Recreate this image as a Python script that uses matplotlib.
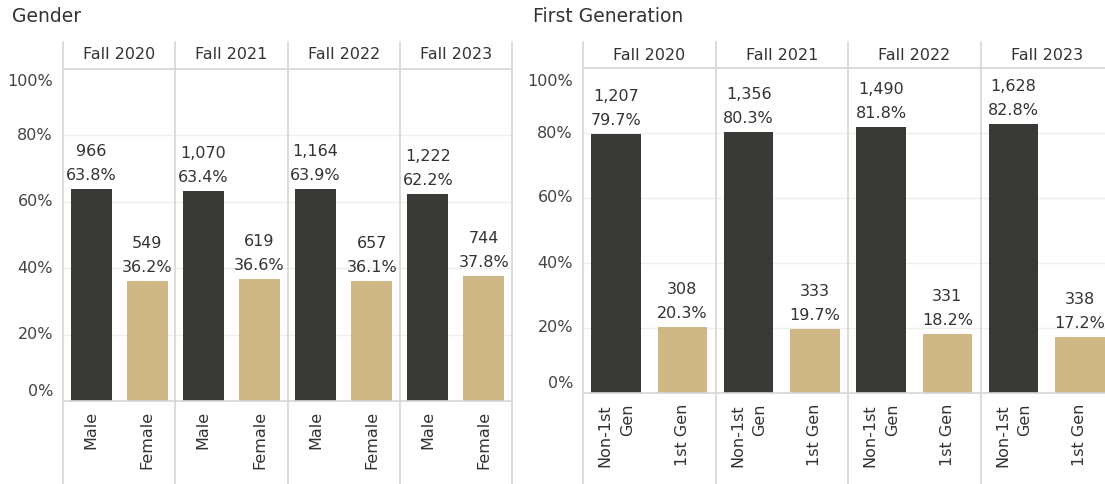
import matplotlib.pyplot as plt
import matplotlib.transforms as mtransforms

# Data
years = ['Fall 2020', 'Fall 2021', 'Fall 2022', 'Fall 2023']

gender_cats = ['Male', 'Female']
male_n = [966, 1070, 1164, 1222]
male_pct = [63.8, 63.4, 63.9, 62.2]
female_n = [549, 619, 657, 744]
female_pct = [36.2, 36.6, 36.1, 37.8]

gen_cats = ['Non-1st\nGen', '1st Gen']
non_n = [1207, 1356, 1490, 1628]
non_pct = [79.7, 80.3, 81.8, 82.8]
first_n = [308, 333, 331, 338]
first_pct = [20.3, 19.7, 18.2, 17.2]

yticks = [0, 20, 40, 60, 80, 100]

DARK = '#393a36'
TAN = '#cfb886'
LINE = '#d6d6d6'
GRID = '#efefef'
TXT = '#333333'
FS = 11.5

W, H = 1105, 484
plt.rcParams['font.family'] = ['DejaVu Sans']
fig = plt.figure(figsize=(W / 100, H / 100), dpi=100)


def px_axes(x0, x1, ytop, ybot):
    return fig.add_axes([x0 / W, 1 - ybot / H, (x1 - x0) / W, (ybot - ytop) / H])


def draw(ax, cats, a_n, a_pct, b_n, b_pct, bar_w, ytop, ybot, lab_off):
    ax.set_xlim(-0.5, 7.5)
    ax.set_ylim(0, 100)
    for s in ['left', 'right']:
        ax.spines[s].set_visible(False)
    for s in ['top', 'bottom']:
        ax.spines[s].set_color(LINE)
        ax.spines[s].set_linewidth(1.2)
    ax.set_xticks([])
    ax.set_yticks([])
    for g in yticks[1:-1]:
        ax.axhline(g, color=GRID, lw=1, zorder=0)

    h = ybot - ytop
    y_head = (ybot - 42) / h
    y_foot = (ybot - H) / h
    for k in range(5):
        ax.axvline(k * 2 - 0.5, ymin=y_foot, ymax=y_head, color=LINE,
                   lw=1.2, clip_on=False)

    trans = mtransforms.blended_transform_factory(ax.transData, ax.transAxes)
    for i, yr in enumerate(years):
        ax.text(i * 2 + 0.5, (ybot - 55) / h, yr, transform=trans,
                ha='center', va='center', fontsize=FS, color=TXT)

    xs_a = [i * 2 for i in range(4)]
    xs_b = [i * 2 + 1 for i in range(4)]
    ax.bar(xs_a, a_pct, width=bar_w, color=DARK, zorder=2)
    ax.bar(xs_b, b_pct, width=bar_w, color=TAN, zorder=2)

    for xs, ns, ps, cat in [(xs_a, a_n, a_pct, cats[0]), (xs_b, b_n, b_pct, cats[1])]:
        for x, n, p in zip(xs, ns, ps):
            ax.annotate(f'{p:.1f}%', xy=(x, p), xytext=(0, 13.5),
                        textcoords='offset pixels', ha='center', va='center',
                        fontsize=FS, color=TXT)
            ax.annotate(f'{n:,}', xy=(x, p), xytext=(0, 37.5),
                        textcoords='offset pixels', ha='center', va='center',
                        fontsize=FS, color=TXT)
            ax.annotate(cat, xy=(x, 0), xytext=(0, -lab_off),
                        textcoords='offset pixels', rotation=90, ha='center',
                        va='top', multialignment='right', linespacing=1.6,
                        fontsize=FS, color=TXT, annotation_clip=False)

    for t in yticks:
        dy = 0
        if t == 100:
            dy = -13
        elif t == 0:
            dy = 9
        ax.annotate(f'{t}%', xy=(0, t), xycoords=('axes fraction', 'data'),
                    xytext=(-10, dy), textcoords='offset pixels', ha='right',
                    va='center', fontsize=FS, color='#444444',
                    annotation_clip=False)


ax1 = px_axes(63, 512, 69, 401)
draw(ax1, gender_cats, male_n, male_pct, female_n, female_pct, 0.73, 69, 401, 10)

ax2 = px_axes(583, 1113, 68, 393)
draw(ax2, gen_cats, non_n, non_pct, first_n, first_pct, 0.75, 68, 393, 11)

fig.text(12 / W, 1 - 16 / H, 'Gender', ha='left', va='center', fontsize=13.5, color=TXT)
fig.text(533 / W, 1 - 16 / H, 'First Generation', ha='left', va='center', fontsize=13.5, color=TXT)

fig.savefig('out.png', dpi=100)
